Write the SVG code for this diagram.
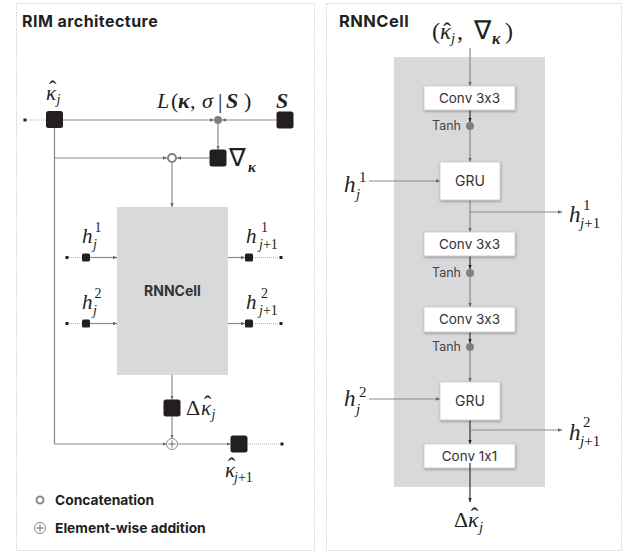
<svg xmlns="http://www.w3.org/2000/svg" width="632" height="553" viewBox="0 0 632 553">
<style>
text{font-feature-settings:"calt" 0}
.panel{fill:#fff;stroke:#d4d4d4;stroke-width:1;stroke-dasharray:1.5 1}
.ttl{font-family:Inter,"Liberation Sans",sans-serif;font-weight:700;font-size:16px;letter-spacing:0.45px;fill:#231f20}
.leg{font-family:Inter,"Liberation Sans",sans-serif;font-weight:700;font-size:13.8px;fill:#231f20}
.lbl{font-family:Inter,"Liberation Sans",sans-serif;font-size:13.5px;fill:#333;text-anchor:middle}
.tanh{font-family:Inter,"Liberation Sans",sans-serif;font-size:12.5px;fill:#444;text-anchor:end}
.m{font-family:"Liberation Serif",serif;font-style:italic;fill:#231f20}
.r{font-family:"Liberation Serif",serif;font-style:normal;fill:#231f20}
.hat{font-family:"Liberation Serif",serif;font-style:normal;fill:#231f20;text-anchor:middle}
.b{font-weight:700}
.sq{fill:#231f20}
.ln{fill:none;stroke:#8a8a8a;stroke-width:1.2}
.lnd{fill:none;stroke:#333;stroke-width:1.2}
.dot{fill:none;stroke:#b5b5b5;stroke-width:1;stroke-dasharray:1 1}
.gdot{fill:#808080}
.box{fill:#fff;stroke:#c8c8c8;stroke-width:0.8;filter:url(#sh)}
</style>
<defs>
<marker id="ag" viewBox="0 0 6 6" refX="6" refY="3" markerWidth="4" markerHeight="4" orient="auto" markerUnits="userSpaceOnUse"><path d="M0,0.5 L6,3 L0,5.5z" fill="#666"/></marker>
<marker id="ad" viewBox="0 0 6 6" refX="6" refY="3" markerWidth="4" markerHeight="4" orient="auto" markerUnits="userSpaceOnUse"><path d="M0,0.5 L6,3 L0,5.5z" fill="#222"/></marker>
<filter id="sh" x="-20%" y="-30%" width="140%" height="170%"><feDropShadow dx="0.5" dy="1.2" stdDeviation="1.2" flood-color="#000" flood-opacity="0.35"/></filter>
</defs>

<!-- Panels -->
<rect class="panel" x="16.5" y="3.5" width="298" height="547"/>
<rect class="panel" x="326.5" y="3.5" width="295" height="547"/>
<text class="ttl" x="22" y="27">RIM architecture</text>
<text class="ttl" x="339" y="27" style="font-size:16.5px">RNNCell</text>

<!-- ===== Left panel connectors ===== -->
<g id="left-connectors">
<line class="dot" x1="27" y1="120" x2="46" y2="120"/>
<line class="ln" x1="63" y1="120" x2="214" y2="120" marker-end="url(#ag)"/>
<line class="ln" x1="276" y1="120" x2="222" y2="120" marker-end="url(#ag)"/>
<line class="ln" x1="218" y1="124" x2="218" y2="149.5" marker-end="url(#ag)"/>
<line class="ln" x1="54.5" y1="128" x2="54.5" y2="444"/>
<line class="ln" x1="54.5" y1="158" x2="167" y2="158" marker-end="url(#ag)"/>
<line class="ln" x1="209" y1="158" x2="177" y2="158" marker-end="url(#ag)"/>
<line class="ln" x1="172" y1="162.5" x2="172" y2="207" marker-end="url(#ag)"/>
<line class="dot" x1="69" y1="257.5" x2="82" y2="257.5"/>
<line class="ln" x1="90" y1="257.5" x2="117" y2="257.5" marker-end="url(#ag)"/>
<line class="dot" x1="69" y1="323.5" x2="82" y2="323.5"/>
<line class="ln" x1="90" y1="323.5" x2="117" y2="323.5" marker-end="url(#ag)"/>
<line class="ln" x1="228" y1="257.5" x2="245" y2="257.5" marker-end="url(#ag)"/>
<line class="dot" x1="253" y1="257.5" x2="279" y2="257.5"/>
<line class="ln" x1="228" y1="323.5" x2="245" y2="323.5" marker-end="url(#ag)"/>
<line class="dot" x1="253" y1="323.5" x2="279" y2="323.5"/>
<line class="ln" x1="172" y1="375" x2="172" y2="399.5" marker-end="url(#ag)"/>
<line class="ln" x1="172" y1="416.5" x2="172" y2="438.5" marker-end="url(#ag)"/>
<line class="ln" x1="54.5" y1="444" x2="166.5" y2="444" marker-end="url(#ag)"/>
<line class="ln" x1="177.5" y1="444" x2="230.5" y2="444" marker-end="url(#ag)"/>
<line class="dot" x1="248" y1="444" x2="281" y2="444"/>
</g>

<!-- ===== Left panel nodes ===== -->
<g id="kappa-j">
<rect class="sq" x="23.5" y="118.5" width="3" height="3"/>
<rect class="sq" x="46" y="111" width="17" height="17" rx="2.5"/>
<text class="m" x="46" y="100" font-size="21">κ</text>
<text class="hat" x="52.5" y="97" font-size="23">ˆ</text>
<text class="m" x="56.5" y="104" font-size="14">j</text>
</g>
<g id="loss">
<circle class="gdot" cx="218" cy="120" r="4"/>
<text class="m" font-size="22" y="108"><tspan x="157">L</tspan><tspan class="r" x="171">(</tspan><tspan class="b" x="178">κ</tspan><tspan class="r" x="190">,</tspan><tspan x="202">σ</tspan><tspan class="r" x="218">|</tspan><tspan class="b" x="226">S</tspan><tspan class="r" x="244">)</tspan></text>
</g>
<g id="S">
<rect class="sq" x="276.5" y="111.5" width="17" height="17" rx="2.5"/>
<text class="m b" x="276" y="108" font-size="22">S</text>
</g>
<g id="grad">
<rect class="sq" x="209.5" y="149.5" width="17" height="17" rx="2.5"/>
<text class="r" x="229" y="166" font-size="25">∇</text>
<text class="m b" x="248" y="172" font-size="15">κ</text>
</g>
<g id="concat">
<circle cx="172" cy="158" r="4" fill="#fff" stroke="#808080" stroke-width="2"/>
</g>
<g id="rnncell">
<rect x="117" y="207" width="111" height="168" fill="#d9d9db"/>
<text x="172.5" y="296" font-family="Inter,'Liberation Sans',sans-serif" font-weight="700" font-size="14" fill="#333" text-anchor="middle">RNNCell</text>
</g>
<g id="h1-in">
<rect class="sq" x="65.5" y="256" width="3" height="3"/>
<rect class="sq" x="82" y="253.5" width="8" height="8" rx="1.5"/>
<text class="m" x="82" y="243" font-size="21">h</text>
<text class="r" x="94.5" y="232" font-size="14">1</text>
<text class="m" x="93" y="249" font-size="14">j</text>
</g>
<g id="h2-in">
<rect class="sq" x="65.5" y="322" width="3" height="3"/>
<rect class="sq" x="82" y="319.5" width="8" height="8" rx="1.5"/>
<text class="m" x="82" y="309" font-size="21">h</text>
<text class="r" x="94.5" y="298" font-size="14">2</text>
<text class="m" x="93" y="315" font-size="14">j</text>
</g>
<g id="h1-out">
<rect class="sq" x="245" y="253.5" width="8" height="8" rx="1.5"/>
<rect class="sq" x="279.5" y="256" width="3" height="3"/>
<text class="m" x="246" y="243" font-size="21">h</text>
<text class="r" x="261" y="232" font-size="14">1</text>
<text class="m" x="259" y="249" font-size="14">j<tspan class="r">+1</tspan></text>
</g>
<g id="h2-out">
<rect class="sq" x="245" y="319.5" width="8" height="8" rx="1.5"/>
<rect class="sq" x="279.5" y="322" width="3" height="3"/>
<text class="m" x="246" y="309" font-size="21">h</text>
<text class="r" x="261" y="298" font-size="14">2</text>
<text class="m" x="259" y="315" font-size="14">j<tspan class="r">+1</tspan></text>
</g>
<g id="delta-kappa">
<rect class="sq" x="163.5" y="399.5" width="17" height="17" rx="2.5"/>
<text class="r" x="186" y="415" font-size="22">Δ</text>
<text class="m" x="201" y="415" font-size="21">κ</text>
<text class="hat" x="207.5" y="412" font-size="23">ˆ</text>
<text class="m" x="211.5" y="419" font-size="14">j</text>
</g>
<g id="add">
<circle cx="172" cy="444" r="5.5" fill="#fff" stroke="#8a8a8a" stroke-width="1"/>
<path d="M168.5,444 H175.5 M172,440.5 V447.5" stroke="#666" stroke-width="1"/>
</g>
<g id="kappa-j1">
<rect class="sq" x="230.5" y="435.5" width="17" height="17" rx="2.5"/>
<rect class="sq" x="280.5" y="442.5" width="3" height="3"/>
<text class="m" x="225" y="477" font-size="21">κ</text>
<text class="hat" x="231.5" y="474" font-size="23">ˆ</text>
<text class="m" x="234" y="482" font-size="14">j<tspan class="r">+1</tspan></text>
</g>
<g id="legend">
<circle cx="40" cy="500" r="3.5" fill="#fff" stroke="#888" stroke-width="2"/>
<text class="leg" x="55" y="505">Concatenation</text>
<circle cx="40" cy="528" r="5.5" fill="#fff" stroke="#8a8a8a" stroke-width="1"/>
<path d="M36.5,528 H43.5 M40,524.5 V531.5" stroke="#666" stroke-width="1"/>
<text class="leg" x="55" y="533">Element-wise addition</text>
</g>

<!-- ===== Right panel ===== -->
<rect x="394" y="57" width="151" height="430" fill="#d9d9db"/>

<g id="right-connectors">
<line class="ln" x1="470" y1="48" x2="470" y2="86" marker-end="url(#ag)"/>
<line class="lnd" x1="470" y1="110" x2="470" y2="122" marker-end="url(#ad)"/>
<line class="ln" x1="470" y1="130" x2="470" y2="162" marker-end="url(#ag)"/>
<line class="ln" x1="369" y1="181" x2="440" y2="181" marker-end="url(#ag)"/>
<line class="ln" x1="470" y1="200" x2="470" y2="232" marker-end="url(#ag)"/>
<line class="ln" x1="470" y1="212" x2="562" y2="212" marker-end="url(#ag)"/>
<line class="lnd" x1="470" y1="256" x2="470" y2="269" marker-end="url(#ad)"/>
<line class="ln" x1="470" y1="277" x2="470" y2="307" marker-end="url(#ag)"/>
<line class="lnd" x1="470" y1="332" x2="470" y2="343" marker-end="url(#ad)"/>
<line class="ln" x1="470" y1="351" x2="470" y2="382" marker-end="url(#ag)"/>
<line class="ln" x1="369" y1="399" x2="440" y2="399" marker-end="url(#ag)"/>
<line class="lnd" x1="470" y1="420" x2="470" y2="444" marker-end="url(#ad)"/>
<line class="ln" x1="470" y1="430" x2="562" y2="430" marker-end="url(#ag)"/>
</g>

<g id="in-label">
<text class="r" x="432" y="39" font-size="24">(</text>
<text class="m" x="440" y="39" font-size="23">κ</text>
<text class="hat" x="447" y="38.5" font-size="24">ˆ</text>
<text class="m" x="451" y="43" font-size="15">j</text>
<text class="r" x="457" y="39" font-size="24">,</text>
<text class="r" x="474" y="39" font-size="26">∇</text>
<text class="m b" x="492" y="44" font-size="16">κ</text>
<text class="r" x="505" y="39" font-size="24">)</text>
</g>
<g id="conv1">
<rect class="box" x="424" y="86" width="91" height="24"/>
<text class="lbl" x="469.5" y="103">Conv 3x3</text>
</g>
<g id="tanh1">
<circle class="gdot" cx="470" cy="126" r="4"/>
<text class="tanh" x="461" y="130">Tanh</text>
</g>
<g id="gru1">
<rect class="box" x="440" y="162" width="60" height="38"/>
<text class="lbl" x="470" y="186" style="font-size:14px">GRU</text>
</g>
<g id="h1-r-in">
<text class="m" x="344" y="192" font-size="23">h</text>
<text class="r" x="359" y="182" font-size="15">1</text>
<text class="m" x="356" y="199" font-size="15">j</text>
</g>
<g id="h1-r-out">
<text class="m" x="569" y="222" font-size="23">h</text>
<text class="r" x="583" y="210" font-size="15">1</text>
<text class="m" x="580" y="228" font-size="15">j<tspan class="r">+1</tspan></text>
</g>
<g id="conv2">
<rect class="box" x="424" y="232" width="91" height="24"/>
<text class="lbl" x="469.5" y="249">Conv 3x3</text>
</g>
<g id="tanh2">
<circle class="gdot" cx="470" cy="273" r="4"/>
<text class="tanh" x="461" y="277">Tanh</text>
</g>
<g id="conv3">
<rect class="box" x="424" y="307" width="91" height="25"/>
<text class="lbl" x="469.5" y="324">Conv 3x3</text>
</g>
<g id="tanh3">
<circle class="gdot" cx="470" cy="347" r="4"/>
<text class="tanh" x="461" y="351">Tanh</text>
</g>
<g id="gru2">
<rect class="box" x="440" y="382" width="60" height="38"/>
<text class="lbl" x="470" y="406" style="font-size:14px">GRU</text>
</g>
<g id="h2-r-in">
<text class="m" x="344" y="406" font-size="23">h</text>
<text class="r" x="359" y="397" font-size="15">2</text>
<text class="m" x="356" y="414" font-size="15">j</text>
</g>
<g id="h2-r-out">
<text class="m" x="569" y="440" font-size="23">h</text>
<text class="r" x="583" y="427" font-size="15">2</text>
<text class="m" x="580" y="446" font-size="15">j<tspan class="r">+1</tspan></text>
</g>
<g id="conv4">
<rect class="box" x="424" y="444" width="91" height="24"/>
<text class="lbl" x="469.5" y="461">Conv 1x1</text>
</g>
<line class="lnd" x1="470" y1="463" x2="470" y2="502" marker-end="url(#ad)"/>
<g id="delta-out">
<text class="r" x="454" y="527" font-size="22">Δ</text>
<text class="m" x="468" y="527" font-size="22">κ</text>
<text class="hat" x="474.5" y="524" font-size="24">ˆ</text>
<text class="m" x="479" y="532" font-size="15">j</text>
</g>
</svg>
